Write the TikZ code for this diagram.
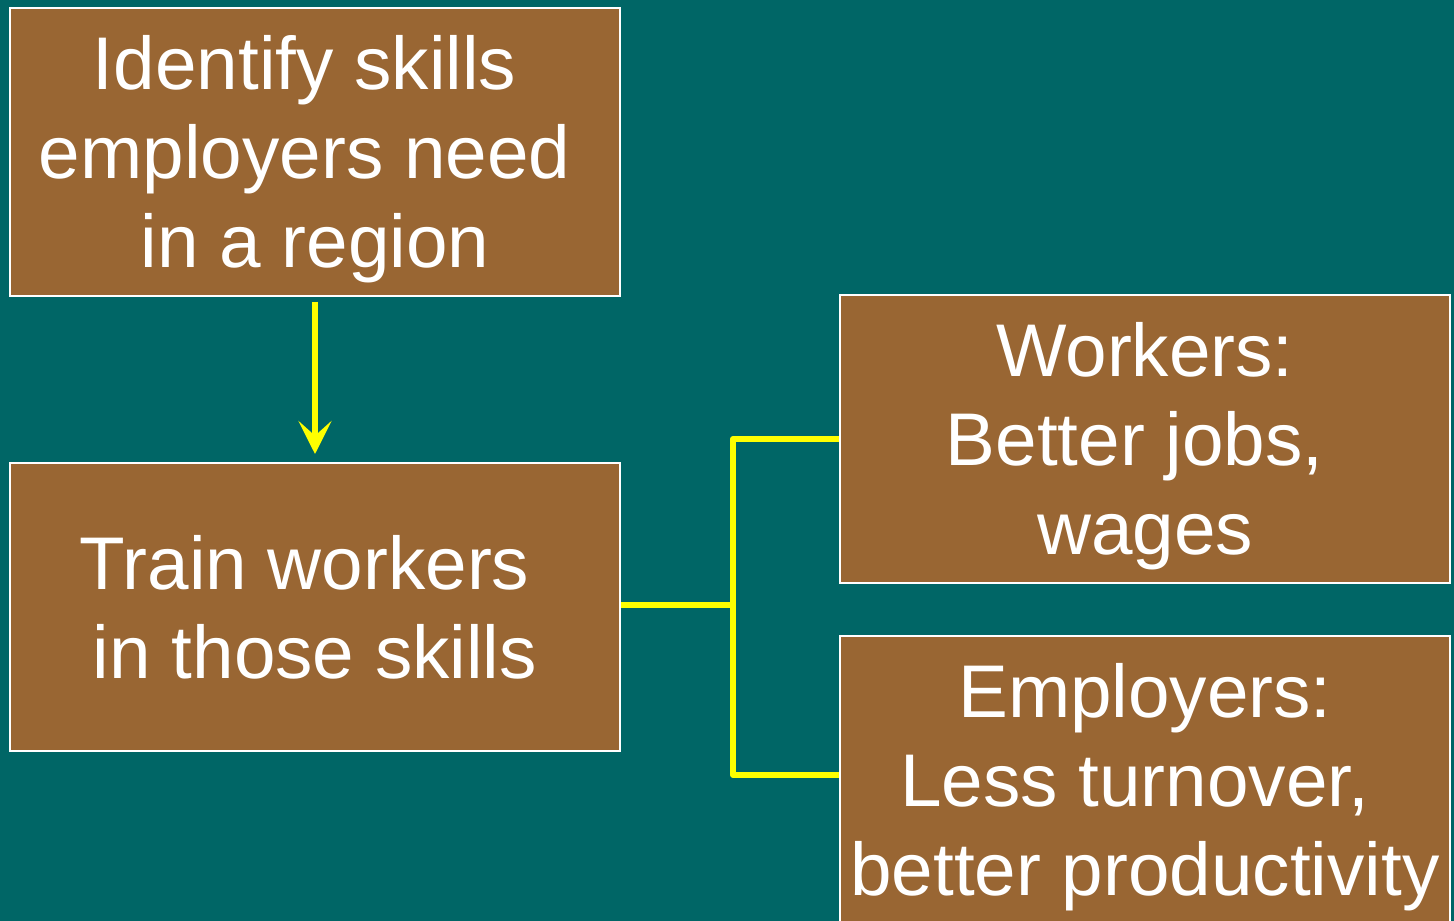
\documentclass[tikz,border=0pt]{standalone}
\usepackage{fontspec}
\setmainfont{Liberation Sans}
\usetikzlibrary{arrows.meta,calc}

\definecolor{slidebg}{HTML}{006666}
\definecolor{boxfill}{HTML}{996633}
\definecolor{linkyellow}{HTML}{FFFF00}

% one text line of cap height and no depth, so blocks centre on their capitals
\newcommand{\capline}[1]{\smash{#1}\rule{0pt}{0.716em}}
\newcommand{\tsp}{\kern0.278em}

\begin{document}
\begin{tikzpicture}[x=0.75pt,y=-0.75pt,
  panel/.style={draw=white, line width=1.5pt, fill=boxfill, text=white,
    minimum width=457.5pt, minimum height=216pt, inner sep=0pt,
    align=center, font=\fontsize{56}{66.75}\selectfont},
  flowarrow/.style={draw=linkyellow, line width=4.8pt,
    -{Stealth[length=24.75pt, width=24.75pt, inset=11pt]}},
  branch/.style={draw=linkyellow, line width=4.5pt, line join=round}]

  \fill[slidebg] (0,0) rectangle (1454,921);
  \useasboundingbox (0,0) rectangle (1454,921);

  \node[panel] (A) at (315,151.5) {\capline{Identify skills\tsp}\\
    \capline{employers need\tsp}\\ \capline{in a region}};
  \node[panel] (B) at (315,607) {\capline{Train workers\tsp}\\
    \capline{in those skills}};
  \node[panel] (C) at (1145,439) {\capline{Workers:}\\
    \capline{Better jobs,\tsp}\\ \capline{wages}};
  \node[panel] (D) at (1145,780) {\capline{Employers:}\\
    \capline{Less turnover,\tsp}\\ \capline{better productivity}};

  % step from the first box to the second
  \draw[flowarrow, shorten <=3.75pt, shorten >=6pt] (A.south) -- (B.north);

  % bracket splitting the outcome into two
  \coordinate (jn) at (733,605);
  \draw[branch] ($(B.east)+(0,-2)$) -- (jn);
  \draw[branch] (C.west) -| (jn) |- ($(D.west)+(0,-5)$);
\end{tikzpicture}
\end{document}
